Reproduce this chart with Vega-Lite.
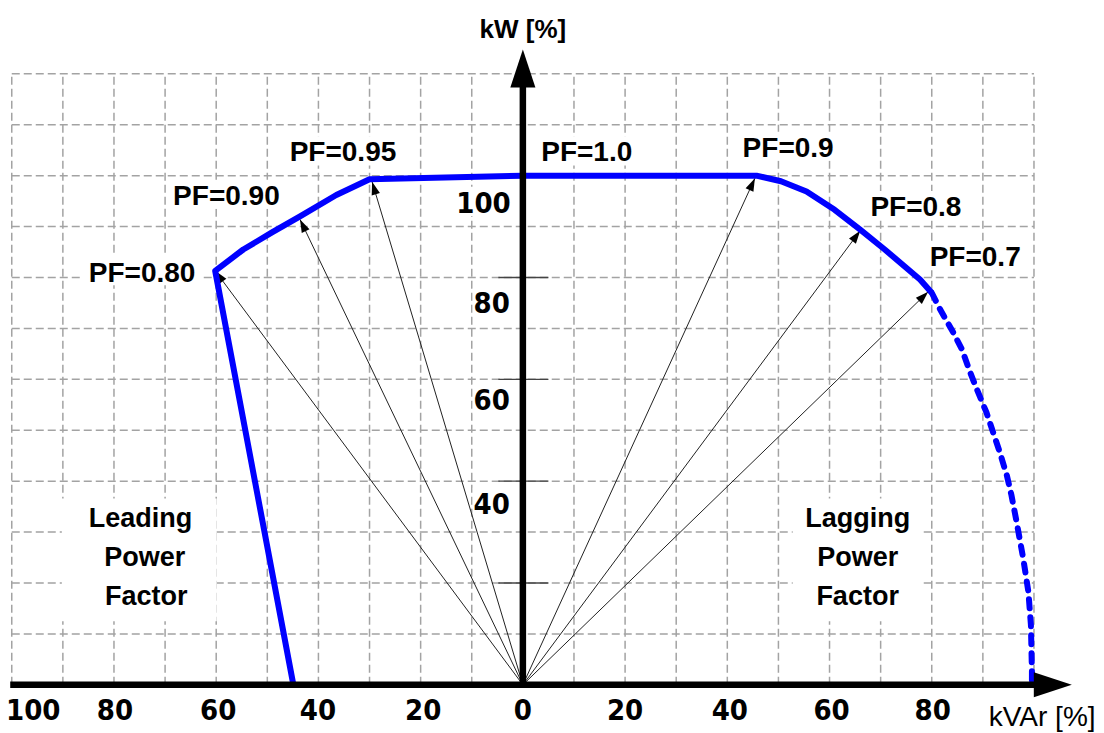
{
  "$schema": "https://vega.github.io/schema/vega-lite/v6.json",
  "width": 1104,
  "height": 733,
  "autosize": {"type": "fit", "contains": "padding"},
  "padding": 0,
  "background": "white",
  "config": {"view": {"stroke": null}, "axis": {"grid": false}},
  "datasets": {
    "gridv": [{"g": -100}, {"g": -90}, {"g": -80}, {"g": -70}, {"g": -60}, {"g": -50}, {"g": -40}, {"g": -30}, {"g": -20}, {"g": -10}, {"g": 10}, {"g": 20}, {"g": 30}, {"g": 40}, {"g": 50}, {"g": 60}, {"g": 70}, {"g": 80}, {"g": 90}, {"g": 100}],
    "gridh": [{"g": 10}, {"g": 20}, {"g": 30}, {"g": 40}, {"g": 50}, {"g": 60}, {"g": 70}, {"g": 80}, {"g": 90}, {"g": 100}, {"g": 110}, {"g": 120}],
    "boxes": [
      {"x1": -86.1, "x2": -62.9, "y1": 78.5, "y2": 84.2},
      {"x1": -69.4, "x2": -46.3, "y1": 93.5, "y2": 99.2},
      {"x1": -46.7, "x2": -23.6, "y1": 102.0, "y2": 107.7},
      {"x1": 2.5, "x2": 22.3, "y1": 102.0, "y2": 107.7},
      {"x1": 42.1, "x2": 61.6, "y1": 103.0, "y2": 108.6},
      {"x1": 67.1, "x2": 86.7, "y1": 91.4, "y2": 97.0},
      {"x1": 78.7, "x2": 98.2, "y1": 81.4, "y2": 87.1},
      {"x1": -90.2, "x2": -59.9, "y1": 12.5, "y2": 36.6},
      {"x1": 52.8, "x2": 78.2, "y1": 12.5, "y2": 36.6},
      {"x1": -12.7, "x2": -2.5, "y1": 92.1, "y2": 97.8},
      {"x1": -9.8, "x2": -2.3, "y1": 72.2, "y2": 77.9},
      {"x1": -9.8, "x2": -2.3, "y1": 53.2, "y2": 59.1},
      {"x1": -9.8, "x2": -2.3, "y1": 32.6, "y2": 38.7}
    ],
    "ticks": [{"v": 20}, {"v": 40}, {"v": 60}, {"v": 80}, {"v": 100}],
    "arrows": [
      {"x": -60.2, "y": 81.3},
      {"x": -43.6, "y": 91.4},
      {"x": -29.5, "y": 98.8},
      {"x": 45.4, "y": 99.5},
      {"x": 66.0, "y": 89.2},
      {"x": 79.3, "y": 77.2}
    ],
    "curve": [
      {"o": 1, "x": -44.9, "y": 0},
      {"o": 2, "x": -60.2, "y": 81.3},
      {"o": 3, "x": -54.7, "y": 85.5},
      {"o": 4, "x": -49.0, "y": 88.9},
      {"o": 5, "x": -43.6, "y": 92.0},
      {"o": 6, "x": -36.5, "y": 96.2},
      {"o": 7, "x": -30.0, "y": 99.3},
      {"o": 8, "x": 0, "y": 100},
      {"o": 9, "x": 45.7, "y": 100},
      {"o": 10, "x": 50.5, "y": 98.9},
      {"o": 11, "x": 55.5, "y": 96.9},
      {"o": 12, "x": 61.0, "y": 93.3},
      {"o": 13, "x": 66.0, "y": 89.4},
      {"o": 14, "x": 70.8, "y": 85.5},
      {"o": 15, "x": 77.7, "y": 79.6},
      {"o": 16, "x": 80.0, "y": 77.0}
    ],
    "dash": [
      {"o": 1, "x": 80.0, "y": 77.0},
      {"o": 2, "x": 81.6, "y": 73.8},
      {"o": 3, "x": 84.2, "y": 69.2},
      {"o": 4, "x": 85.9, "y": 65.9},
      {"o": 5, "x": 87.5, "y": 61.4},
      {"o": 6, "x": 88.8, "y": 58.1},
      {"o": 7, "x": 90.7, "y": 53.5},
      {"o": 8, "x": 92.0, "y": 49.6},
      {"o": 9, "x": 93.3, "y": 45.7},
      {"o": 10, "x": 94.7, "y": 41.1},
      {"o": 11, "x": 95.6, "y": 37.2},
      {"o": 12, "x": 96.6, "y": 32.0},
      {"o": 13, "x": 97.9, "y": 24.8},
      {"o": 14, "x": 98.9, "y": 18.3},
      {"o": 15, "x": 99.4, "y": 11.8},
      {"o": 16, "x": 99.6, "y": 2.6},
      {"o": 17, "x": 99.6, "y": 0.8}
    ],
    "axes": [
      {"x1": -100.3, "x2": 101, "y1": 0, "y2": 0},
      {"x1": 0, "x2": 0, "y1": -0.6, "y2": 118}
    ],
    "axisheads": [{"x": 0, "y": 124.8}, {"x": 107.4, "y": 0}],
    "pflabels": [
      {"x": -74.5, "y": 79.1, "t": "PF=0.80"},
      {"x": -58.0, "y": 94.3, "t": "PF=0.90"},
      {"x": -35.2, "y": 102.8, "t": "PF=0.95"},
      {"x": 12.5, "y": 102.8, "t": "PF=1.0"},
      {"x": 51.9, "y": 103.7, "t": "PF=0.9"},
      {"x": 76.9, "y": 92.0, "t": "PF=0.8"},
      {"x": 88.5, "y": 82.3, "t": "PF=0.7"}
    ],
    "regions": [
      {"x": -74.8, "y": 30.9, "t": "Leading"},
      {"x": -74.0, "y": 23.3, "t": "Power"},
      {"x": -73.7, "y": 15.6, "t": "Factor"},
      {"x": 65.5, "y": 30.9, "t": "Lagging"},
      {"x": 65.5, "y": 23.3, "t": "Power"},
      {"x": 65.5, "y": 15.6, "t": "Factor"}
    ],
    "ticklabels": [
      {"x": -95.8, "y": -6.9, "t": "100"},
      {"x": -79.8, "y": -6.9, "t": "80"},
      {"x": -59.6, "y": -6.9, "t": "60"},
      {"x": -40.1, "y": -6.9, "t": "40"},
      {"x": -19.5, "y": -6.9, "t": "20"},
      {"x": 0, "y": -6.9, "t": "0"},
      {"x": 20, "y": -6.9, "t": "20"},
      {"x": 40.5, "y": -6.9, "t": "40"},
      {"x": 60.4, "y": -6.9, "t": "60"},
      {"x": 80.2, "y": -6.9, "t": "80"},
      {"x": -7.7, "y": 92.7, "t": "100"},
      {"x": -6.1, "y": 73.1, "t": "80"},
      {"x": -6.1, "y": 53.9, "t": "60"},
      {"x": -6.1, "y": 33.6, "t": "40"}
    ],
    "titles": [
      {"x": 0, "y": 127.0, "t": "kW [%]", "k": "kw"},
      {"x": 101.6, "y": -8.1, "t": "kVAr [%]", "k": "kvar"}
    ]
  },
  "layer": [
    {
      "data": {"name": "gridv"},
      "mark": {"type": "rule", "color": "#a3a3a3", "strokeWidth": 1.5, "strokeDash": [8, 4]},
      "encoding": {
        "x": {"field": "g", "type": "quantitative", "scale": {"domain": [-102.3, 113.7], "nice": false, "zero": false}, "axis": null},
        "y": {"datum": 0, "type": "quantitative", "scale": {"domain": [-9.07, 134.5], "nice": false, "zero": false}, "axis": null},
        "y2": {"datum": 120}
      }
    },
    {
      "data": {"name": "gridh"},
      "mark": {"type": "rule", "color": "#a3a3a3", "strokeWidth": 1.5, "strokeDash": [8, 4]},
      "encoding": {"y": {"field": "g", "type": "quantitative", "axis": null}, "x": {"datum": -100, "type": "quantitative", "axis": null}, "x2": {"datum": 100}}
    },
    {
      "data": {"name": "boxes"},
      "mark": {"type": "rect", "color": "white"},
      "encoding": {"x": {"field": "x1", "type": "quantitative", "axis": null}, "x2": {"field": "x2"}, "y": {"field": "y1", "type": "quantitative", "axis": null}, "y2": {"field": "y2"}}
    },
    {
      "data": {"name": "ticks"},
      "mark": {"type": "rule", "color": "#444444", "strokeWidth": 1.3},
      "encoding": {"y": {"field": "v", "type": "quantitative", "axis": null}, "x": {"datum": -4.8, "type": "quantitative", "axis": null}, "x2": {"datum": 5}}
    },
    {
      "data": {"name": "arrows"},
      "mark": {"type": "rule", "color": "#222222", "strokeWidth": 1},
      "encoding": {"x": {"field": "x", "type": "quantitative", "axis": null}, "y": {"field": "y", "type": "quantitative", "axis": null}, "x2": {"datum": 0}, "y2": {"datum": 0}}
    },
    {
      "data": {"name": "arrows"},
      "transform": [{"calculate": "atan2(datum.x, datum.y) * 180 / PI", "as": "ang"}],
      "mark": {"type": "point", "shape": "M0,0L-0.66,2L0.66,2Z", "filled": true, "color": "black", "opacity": 1, "size": 169},
      "encoding": {"x": {"field": "x", "type": "quantitative", "axis": null}, "y": {"field": "y", "type": "quantitative", "axis": null}, "angle": {"field": "ang", "type": "quantitative", "scale": null}}
    },
    {
      "data": {"name": "curve"},
      "mark": {"type": "line", "color": "#0000ff", "strokeWidth": 6, "strokeJoin": "round"},
      "encoding": {"x": {"field": "x", "type": "quantitative", "axis": null}, "y": {"field": "y", "type": "quantitative", "axis": null}, "order": {"field": "o", "type": "quantitative"}}
    },
    {
      "data": {"name": "dash"},
      "mark": {"type": "line", "color": "#0000ff", "strokeWidth": 6, "strokeDash": [9, 9], "strokeCap": "round"},
      "encoding": {"x": {"field": "x", "type": "quantitative", "axis": null}, "y": {"field": "y", "type": "quantitative", "axis": null}, "order": {"field": "o", "type": "quantitative"}}
    },
    {
      "data": {"name": "axes"},
      "mark": {"type": "rule", "color": "black", "strokeWidth": 6.5},
      "encoding": {"x": {"field": "x1", "type": "quantitative", "axis": null}, "x2": {"field": "x2"}, "y": {"field": "y1", "type": "quantitative", "axis": null}, "y2": {"field": "y2"}}
    },
    {
      "data": {"name": "axisheads"},
      "transform": [{"calculate": "atan2(datum.x, datum.y) * 180 / PI", "as": "ang"}],
      "mark": {"type": "point", "shape": "M0,0L-0.66,2L0.66,2Z", "filled": true, "color": "black", "opacity": 1, "size": 1444},
      "encoding": {"x": {"field": "x", "type": "quantitative", "axis": null}, "y": {"field": "y", "type": "quantitative", "axis": null}, "angle": {"field": "ang", "type": "quantitative", "scale": null}}
    },
    {
      "data": {"name": "pflabels"},
      "mark": {"type": "text", "font": "Liberation Sans", "fontWeight": "bold", "fontSize": 28, "align": "center", "baseline": "alphabetic", "color": "black"},
      "encoding": {"x": {"field": "x", "type": "quantitative", "axis": null}, "y": {"field": "y", "type": "quantitative", "axis": null}, "text": {"field": "t", "type": "nominal"}}
    },
    {
      "data": {"name": "regions"},
      "mark": {"type": "text", "font": "Liberation Sans", "fontWeight": "bold", "fontSize": 27, "align": "center", "baseline": "alphabetic", "color": "black"},
      "encoding": {"x": {"field": "x", "type": "quantitative", "axis": null}, "y": {"field": "y", "type": "quantitative", "axis": null}, "text": {"field": "t", "type": "nominal"}}
    },
    {
      "data": {"name": "ticklabels"},
      "mark": {"type": "text", "font": "DejaVu Sans Condensed, Liberation Sans", "fontWeight": "bold", "fontSize": 29, "align": "center", "baseline": "alphabetic", "color": "black"},
      "encoding": {"x": {"field": "x", "type": "quantitative", "axis": null}, "y": {"field": "y", "type": "quantitative", "axis": null}, "text": {"field": "t", "type": "nominal"}}
    },
    {
      "data": {"name": "titles"},
      "transform": [{"filter": "datum.k == 'kw'"}],
      "mark": {"type": "text", "font": "Liberation Sans", "fontWeight": "bold", "fontSize": 26, "align": "center", "baseline": "alphabetic", "color": "black"},
      "encoding": {"x": {"field": "x", "type": "quantitative", "axis": null}, "y": {"field": "y", "type": "quantitative", "axis": null}, "text": {"field": "t", "type": "nominal"}}
    },
    {
      "data": {"name": "titles"},
      "transform": [{"filter": "datum.k == 'kvar'"}],
      "mark": {"type": "text", "font": "Liberation Sans", "fontSize": 28, "align": "center", "baseline": "alphabetic", "color": "black"},
      "encoding": {"x": {"field": "x", "type": "quantitative", "axis": null}, "y": {"field": "y", "type": "quantitative", "axis": null}, "text": {"field": "t", "type": "nominal"}}
    }
  ]
}
